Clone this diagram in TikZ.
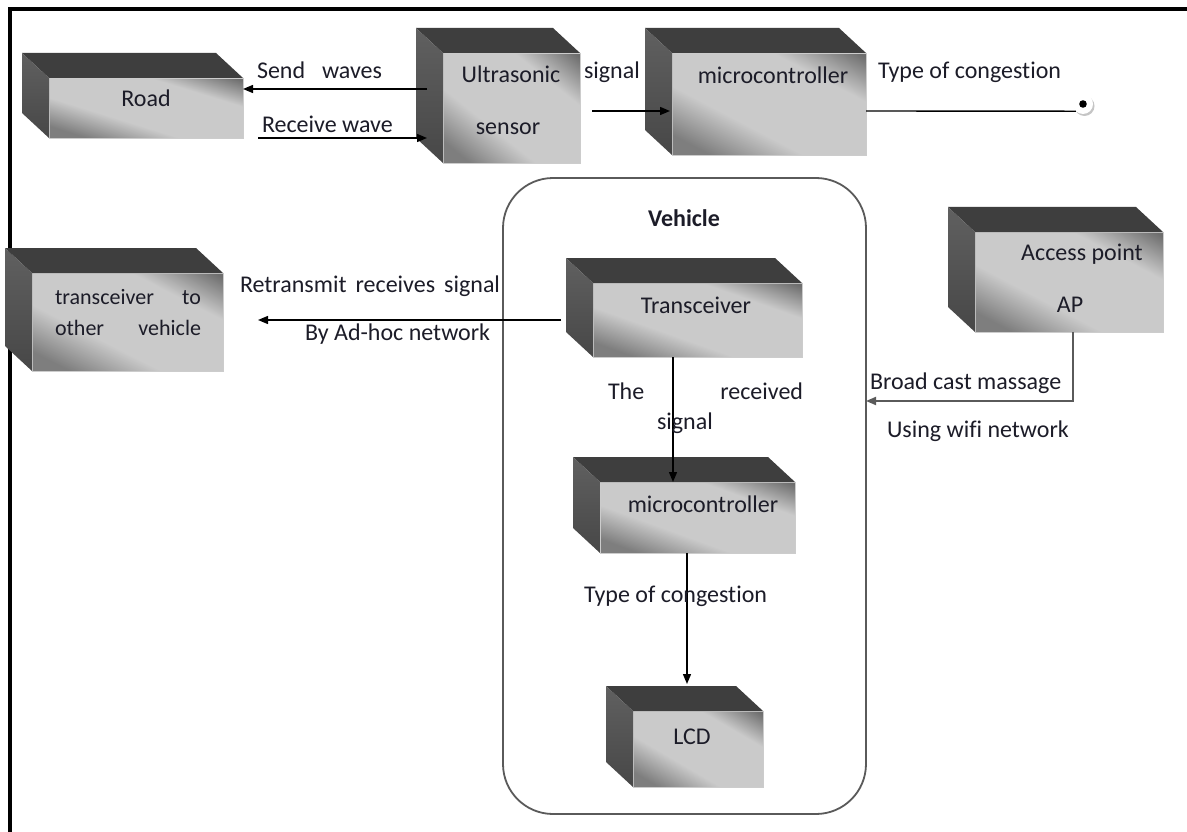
\documentclass[tikz,border=0pt]{standalone}
\usepackage{fontspec}
\setmainfont{Carlito}[Ligatures=NoCommon]
\usetikzlibrary{arrows.meta,calc,shadows}

\definecolor{inkc}{HTML}{1C1C28}
\definecolor{faceDarkA}{HTML}{7E7E7E}
\definecolor{faceLight}{HTML}{CACACA}
\definecolor{faceDarkB}{HTML}{6E6E6E}
\definecolor{topc}{HTML}{3E3E3E}
\definecolor{sideTop}{HTML}{606060}
\definecolor{sideBot}{HTML}{474747}
\definecolor{framec}{HTML}{5A5A5A}

% dark-light-dark gradient; the part from 25bp to 75bp runs corner to corner
\pgfdeclarehorizontalshading{facegrad}{100bp}{%
  color(0bp)=(faceDarkA); color(30bp)=(faceDarkA); color(42bp)=(faceLight);
  color(63bp)=(faceLight); color(74bp)=(faceDarkB); color(100bp)=(faceDarkB)}

\newcommand\cubedx{27}
\newcommand\cubedy{25}

% solid box: shaded front face (gradient along its diagonal), top and left faces
\newcommand\cubebox[5]{%
  \pgfmathsetmacro\cbW{(#4-#2)/100}%
  \pgfmathsetmacro\cbH{(#5-#3)/100}%
  \begin{scope}
    \clip (#2,#3) rectangle (#4,#5);
    \begin{scope}[transform canvas={cm={\cbW,\cbH,\cbW,-\cbH,({(#2+#4)/2},{(#3+#5)/2})}}]
      \shade[shading=facegrad] (-50,-50) rectangle (50,50);
    \end{scope}
  \end{scope}
  \node[cubeface, minimum width={(#4-#2)*1pt}, minimum height={(#5-#3)*1pt}]
    (#1) at ({(#2+#4)/2},{(#3+#5)/2}) {};
  \fill[topc] (#1.north west) -- ++(-\cubedx,-\cubedy)
    -- ($(#1.north east)+(-\cubedx,-\cubedy)$) -- (#1.north east) -- cycle;
  \shade[top color=sideTop, bottom color=sideBot] (#1.north west) -- ++(-\cubedx,-\cubedy)
    -- ($(#1.south west)+(-\cubedx,-\cubedy)$) -- (#1.south west) -- cycle;
}

\begin{document}
\begin{tikzpicture}[x=1pt,y=-1pt,
  cubeface/.style={rectangle, inner sep=0pt, outer sep=0pt, draw=gray!40, line width=0.6pt},
  txt/.style={inner sep=0pt, outer sep=0pt, text=inkc,
    font=\fontsize{24}{28}\selectfont},
  smalltxt/.style={txt, font=\fontsize{22}{26}\selectfont},
  wire/.style={line width=1.4pt, black},
  arr/.style={wire, -{Triangle[length=10pt,width=8pt]}},
  grayarr/.style={line width=1.8pt, framec, -{Triangle[length=10pt,width=8pt]}},
  vehframe/.style={rectangle, rounded corners=50pt, draw=framec, line width=1.8pt,
    inner sep=0pt, outer sep=0pt},
  termdot/.style={circle, fill=white, minimum size=20pt, inner sep=0pt,
    drop shadow={shadow xshift=1.5pt, shadow yshift=-2pt, fill=black!45, opacity=0.5}}
]
\useasboundingbox (0,0) rectangle (1187,832);
\fill[white] (0,0) rectangle (1187,832);

% outer frame (top and left edges)
\draw[line width=4pt, black] (1187,9) -- (10,9) -- (10,832);

% vehicle enclosure
\node[vehframe, minimum width=363pt, minimum height=636pt] (veh) at (684.5,496) {};
\node[txt, anchor=base, font=\fontsize{24}{28}\selectfont\bfseries] (vehlbl) at (684,226) {Vehicle};

% boxes
\cubebox{road}{49}{78}{243}{138}
\cubebox{ultra}{443}{53}{580}{163}
\cubebox{microA}{672}{53}{866}{155}
\cubebox{xother}{32}{273}{223}{371}
\cubebox{trans}{593}{283}{802}{357}
\cubebox{microB}{600}{482}{795}{553}
\cubebox{lcd}{633}{711}{763}{787}
\cubebox{ap}{975}{232}{1163}{332}

% box texts
\node[txt, anchor=base] (roadlbl) at (146,107) {Road};
\node[txt, anchor=base] (ultralblA) at (511,83) {Ultrasonic};
\node[txt, anchor=base] (ultralblB) at (508,135) {sensor};
\node[txt, anchor=base] (microAlbl) at (773,84) {microcontroller};
\node[smalltxt, anchor=base west] (xotherA) at (55,304) {\makebox[146pt][s]{transceiver to}};
\node[smalltxt, anchor=base west] (xotherB) at (55,335) {\makebox[146pt][s]{other vehicle}};
\node[txt, anchor=base] (translbl) at (696,313) {Transceiver};
\node[txt, anchor=base] (microBlbl) at (703,512) {microcontroller};
\node[txt, anchor=base] (lcdlbl) at (692,744) {LCD};
\node[txt, anchor=base] (aplblA) at (1082,260) {Access point};
\node[txt, anchor=base] (aplblB) at (1070,312) {AP};

% terminal point
\node[termdot] (dot) at (1083,104) {};
\fill[black] (dot.center) circle (3.8);

% connectors
\draw[arr] ($(ultra.west)+(-16,-19)$) -- ($(road.east)+(0,-19)$);
\draw[arr] ($(road.east)+(15,30)$) -- ($(ultra.west)+(-16,30)$);
\draw[arr] ($(ultra.east)+(12,3)$) -- ($(microA.west)+(-2,7)$);
\draw[wire] ($(microA.east)+(0,7)$) -- (dot.south west);
\draw[arr] ($(trans.west)+(-32,0)$) -- ($(xother.east)+(35,-2)$);
\draw[arr] ($(trans.south)+(-24.5,0)$) -- ($(microB.north)+(-24.5,0)$);
\draw[arr] ($(microB.south)+(-10.5,0)$) -- ($(lcd.north)+(-11,-27)$);
\draw[grayarr] ($(ap.south)+(4,0)$) |- ($(veh.east)+(0,-95)$);

% connector labels
\node[txt, anchor=base west] (sendlbl) at (257,79) {\makebox[125pt][s]{Send waves}};
\node[txt, anchor=base west] (recvlbl) at (262,133) {Receive wave};
\node[txt, anchor=base west] (siglbl) at (584,79) {signal};
\node[txt, anchor=base west] (congA) at (878,79) {Type of congestion};
\node[txt, anchor=base west] (retxlbl) at (240,292) {\makebox[260pt][s]{Retransmit receives signal}};
\node[txt, anchor=base west] (adhoclbl) at (305,340) {By Ad-hoc network};
\node[txt, anchor=base west] (rxA) at (608,399) {\makebox[195pt][s]{The received}};
\node[txt, anchor=base west] (rxB) at (657,429) {signal};
\node[txt, anchor=base west] (congB) at (584,602) {Type of congestion};
\node[txt, anchor=base west] (bcast) at (870,389) {Broad cast massage};
\node[txt, anchor=base west] (wifi) at (887,437) {Using wifi network};
\end{tikzpicture}
\end{document}
